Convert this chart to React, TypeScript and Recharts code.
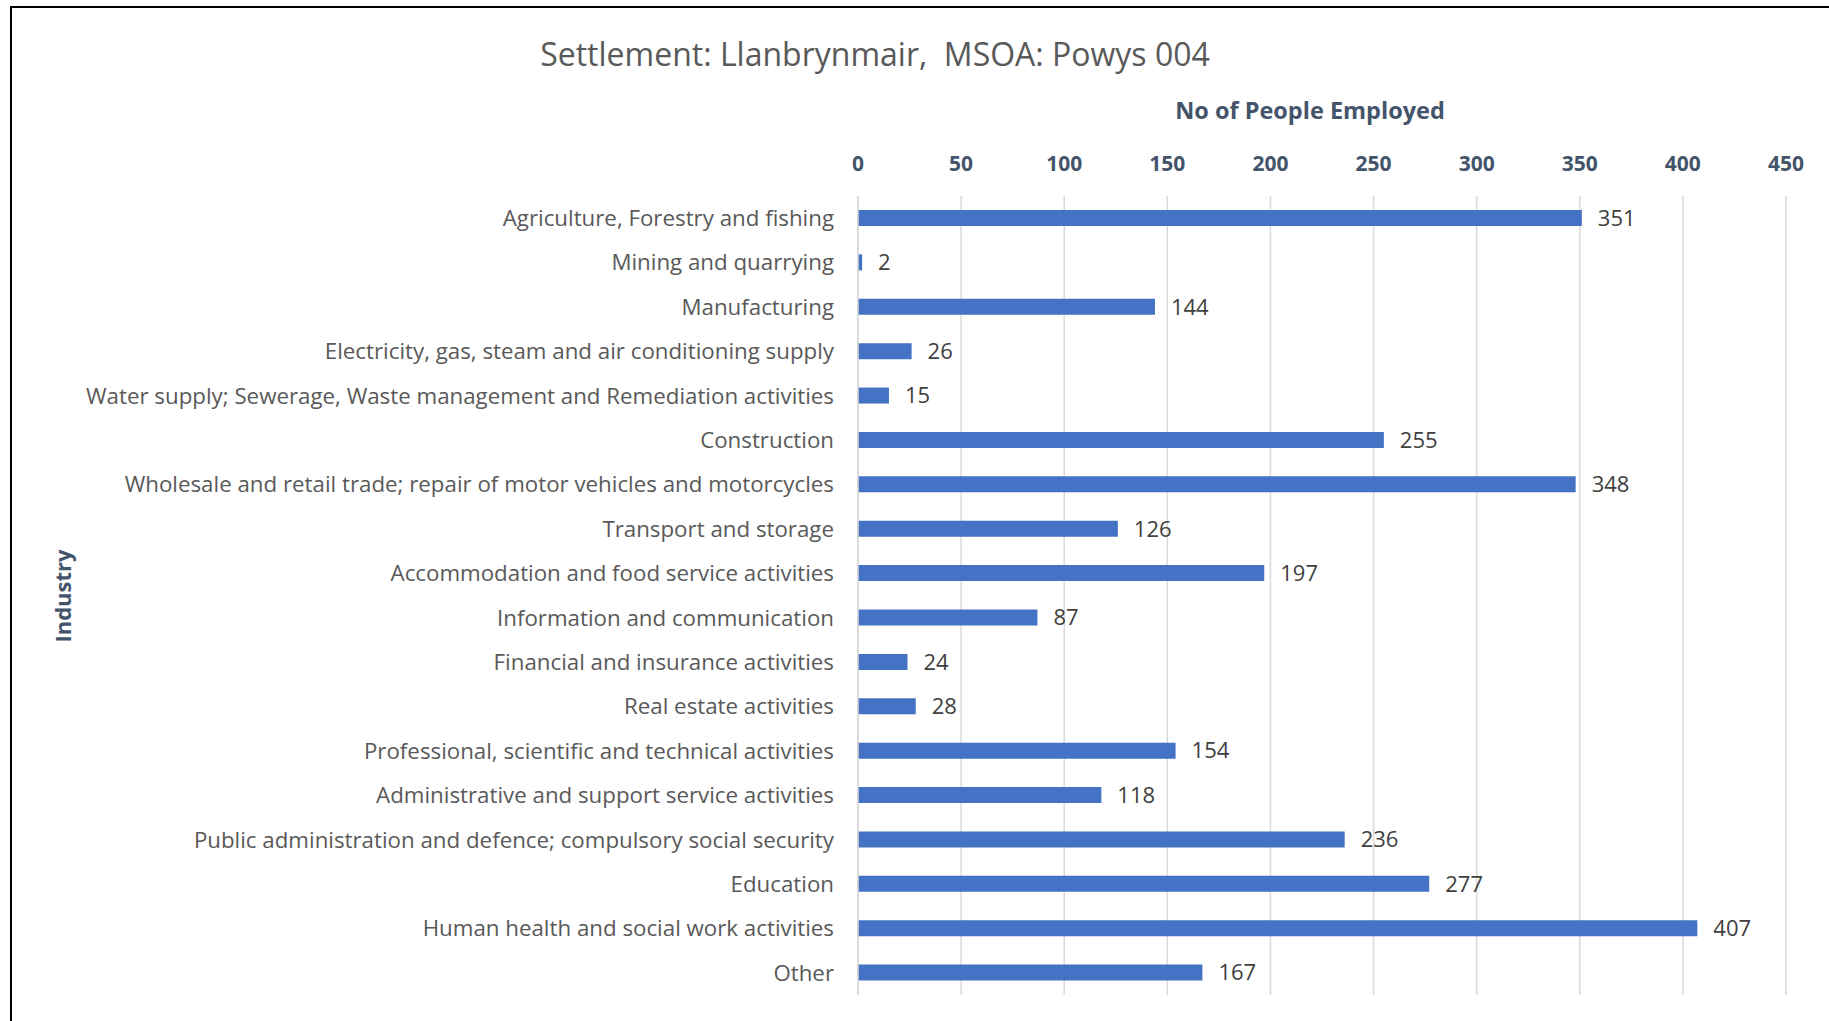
import React from 'react';
import { BarChart, Bar, XAxis, YAxis, CartesianGrid, LabelList, Label } from 'recharts';

const industries = [
  'Agriculture, Forestry and fishing',
  'Mining and quarrying',
  'Manufacturing',
  'Electricity, gas, steam and air conditioning supply',
  'Water supply; Sewerage, Waste management and Remediation activities',
  'Construction',
  'Wholesale and retail trade; repair of motor vehicles and motorcycles',
  'Transport and storage',
  'Accommodation and food service activities',
  'Information and communication',
  'Financial and insurance activities',
  'Real estate activities',
  'Professional, scientific and technical activities',
  'Administrative and support service activities',
  'Public administration and defence; compulsory social security',
  'Education',
  'Human health and social work activities',
  'Other',
];

const employed = [351, 2, 144, 26, 15, 255, 348, 126, 197, 87, 24, 28, 154, 118, 236, 277, 407, 167];

const xTicks = [0, 50, 100, 150, 200, 250, 300, 350, 400, 450];

const chartTitle = 'Settlement: Llanbrynmair,  MSOA: Powys 004';
const xAxisTitle = 'No of People Employed';
const yAxisTitle = 'Industry';

const data = industries.map((name, i) => ({ name, value: employed[i] }));

const FONT = '"Open Sans", sans-serif';

export default function App() {
  return (
    <div
      style={{
        position: 'fixed',
        left: 0,
        top: 0,
        width: 1829,
        height: 1021,
        overflow: 'hidden',
        background: '#fff',
        fontFamily: FONT,
      }}
    >
      <div
        style={{
          position: 'absolute',
          left: 10,
          top: 6,
          width: 3000,
          height: 3000,
          border: '2px solid #000',
          boxSizing: 'border-box',
        }}
      />
      <div
        style={{
          position: 'absolute',
          left: 875 - 500,
          top: 54 - 22,
          width: 1000,
          textAlign: 'center',
          fontSize: 32,
          lineHeight: '44px',
          color: '#595959',
          whiteSpace: 'pre',
        }}
      >
        {chartTitle}
      </div>
      <div
        style={{
          position: 'absolute',
          left: 62 - 100,
          top: 596 - 15,
          width: 200,
          height: 30,
          lineHeight: '30px',
          textAlign: 'center',
          fontSize: 22,
          fontWeight: 700,
          color: '#44546A',
          transform: 'rotate(-90deg)',
        }}
      >
        {yAxisTitle}
      </div>
      <div style={{ position: 'absolute', left: 0, top: 0 }}>
        <BarChart
          width={1829}
          height={1021}
          data={data}
          layout="vertical"
          margin={{ top: 150, right: 43, bottom: 26, left: 0 }}
          barCategoryGap={0}
        >
          <CartesianGrid horizontal={false} stroke="#D9D9D9" strokeWidth={1.5} />
          <XAxis
            type="number"
            orientation="top"
            domain={[0, 450]}
            ticks={xTicks}
            interval={0}
            height={46}
            axisLine={false}
            tickLine={false}
            tickSize={0}
            tickMargin={25}
            tick={{ fill: '#44546A', fontSize: 21, fontWeight: 700, fontFamily: FONT }}
          >
            <Label
              value={xAxisTitle}
              position="top"
              offset={31}
              dx={-12}
              fill="#44546A"
              fontSize={23.5}
              fontWeight={700}
              fontFamily={FONT}
            />
          </XAxis>
          <YAxis
            type="category"
            dataKey="name"
            width={858}
            interval={0}
            axisLine={{ stroke: '#D9D9D9', strokeWidth: 1.5 }}
            tickLine={false}
            tickSize={0}
            tickMargin={24}
            tick={{ fill: '#595959', fontSize: 22.3, fontFamily: FONT }}
          />
          <Bar dataKey="value" fill="#4472C4" barSize={16} isAnimationActive={false}>
            <LabelList
              dataKey="value"
              position="right"
              offset={16}
              fill="#404040"
              fontSize={22}
              fontFamily={FONT}
            />
          </Bar>
        </BarChart>
      </div>
    </div>
  );
}
